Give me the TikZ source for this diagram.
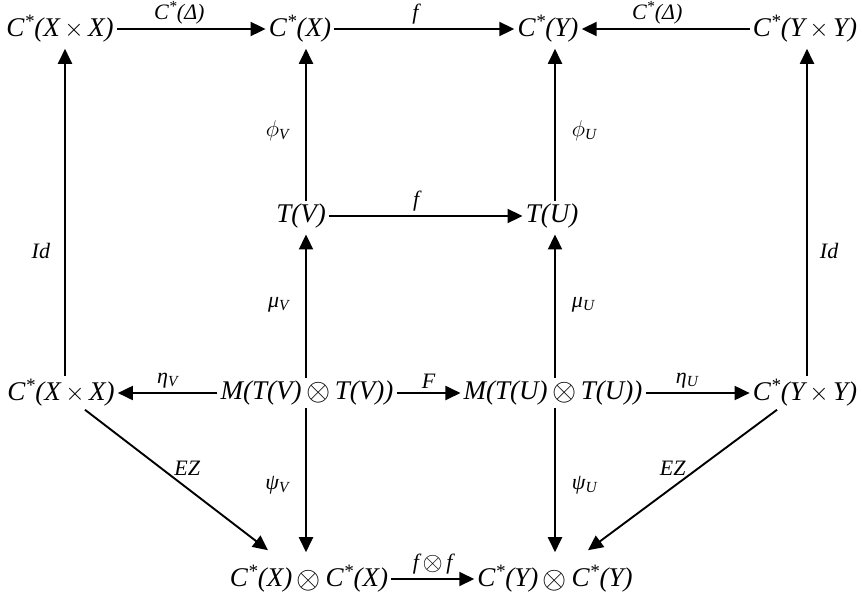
\documentclass[tikz,border=0pt]{standalone}
\usepackage{fontspec}
\usepackage{graphicx}
\setmainfont{Liberation Serif}
\usetikzlibrary{arrows.meta}
\newcommand\cst{C\textsuperscript{*}}
\newcommand\tim{\,$\times$\,}
\newcommand\otm{\,\raisebox{-0.05em}{\scalebox{1.25}{$\otimes$}}\,}
\newcommand\fii{\raisebox{0pt}{\scalebox{1.1}{$\phi$}}}
\tikzset{
  obj/.style={font=\fontsize{27}{29}\selectfont\itshape, inner sep=3pt},
  lab/.style={font=\fontsize{22}{24}\selectfont\itshape, inner sep=4pt},
  arr/.style={-{Triangle[length=15pt,width=14pt]}, line width=1.9pt},
}
\begin{document}
\begin{tikzpicture}[x=1pt,y=-1pt]
\useasboundingbox (0,0) rectangle (862,592);
% column lines
\coordinate (k1) at (65,0);
\coordinate (k2) at (306,0);
\coordinate (k3) at (555,0);
\coordinate (k4) at (807,0);
% objects
\node[obj] (cxx) at (60,29) {\cst(X\tim X)};
\node[obj] (cx) at (300,29) {\cst(X)};
\node[obj] (cy) at (548,29) {\cst(Y)};
\node[obj] (cyy) at (805,29) {\cst(Y\tim Y)};
\node[obj] (tv) at (301,216) {T(V)};
\node[obj] (tu) at (552,216) {T(U)};
\node[obj] (cxxb) at (61,393) {\cst(X\tim X)};
\node[obj] (mv) at (307,393) {M(T(V)\otm T(V))};
\node[obj] (mu) at (553,393) {M(T(U)\otm T(U))};
\node[obj] (cyyb) at (805,393) {\cst(Y\tim Y)};
\node[obj] (bx) at (309,579) {\cst(X)\otm\cst(X)};
\node[obj] (by) at (555,579) {\cst(Y)\otm\cst(Y)};
% top row
\draw[arr] (cxx) -- node[lab,above,pos=.42] {\cst(Δ)} (cx);
\draw[arr] (cx) -- node[lab,above,pos=.45] {f} (cy);
\draw[arr] (cyy) -- node[lab,above,pos=.55] {\cst(Δ)} (cy);
% T row
\draw[arr] (tv) -- node[lab,above,pos=.45] {f} (tu);
% M row
\draw[arr] (mv) -- node[lab,above] {η\textsubscript{V}} (cxxb);
\draw[arr] (mv) -- node[lab,above] {F} (mu);
\draw[arr] (mu) -- node[lab,above,pos=.4] {η\textsubscript{U}} (cyyb);
% bottom row
\draw[arr] (bx) -- node[lab,above] {f\otm f} (by);
% verticals
\draw[arr,shorten >=3pt] (cxxb.north -| k1) -- node[lab,left=10pt,pos=.38] {Id} (cxx.south -| k1);
\draw[arr,shorten >=3pt] (cyyb.north -| k4) -- node[lab,right=8pt,pos=.38] {Id} (cyy.south -| k4);
\draw[arr,shorten >=3pt] (tv.north -| k2) -- node[lab,left=12pt,pos=.45] {\fii\textsubscript{V}} (cx.south -| k2);
\draw[arr,shorten >=3pt] (tu.north -| k3) -- node[lab,right=12pt,pos=.45] {\fii\textsubscript{U}} (cy.south -| k3);
\draw[arr,shorten >=3pt] (mv.north -| k2) -- node[lab,left=12pt] {μ\textsubscript{V}} (tv.south -| k2);
\draw[arr,shorten >=3pt] (mu.north -| k3) -- node[lab,right=12pt] {μ\textsubscript{U}} (tu.south -| k3);
\draw[arr,shorten >=10pt] (mv.south -| k2) -- node[lab,left=12pt] {ψ\textsubscript{V}} (bx.north -| k2);
\draw[arr,shorten >=10pt] (mu.south -| k3) -- node[lab,right=12pt] {ψ\textsubscript{U}} (by.north -| k3);
% diagonals
\draw[arr] ([xshift=24pt]cxxb.south) -- node[lab,pos=.5,anchor=south west,xshift=-7pt] {EZ} ([xshift=-41pt,yshift=12pt]bx.north);
\draw[arr] ([xshift=-28pt]cyyb.south) -- node[lab,pos=.5,anchor=south east,xshift=8pt] {EZ} ([xshift=33pt,yshift=12pt]by.north);
\end{tikzpicture}
\end{document}
